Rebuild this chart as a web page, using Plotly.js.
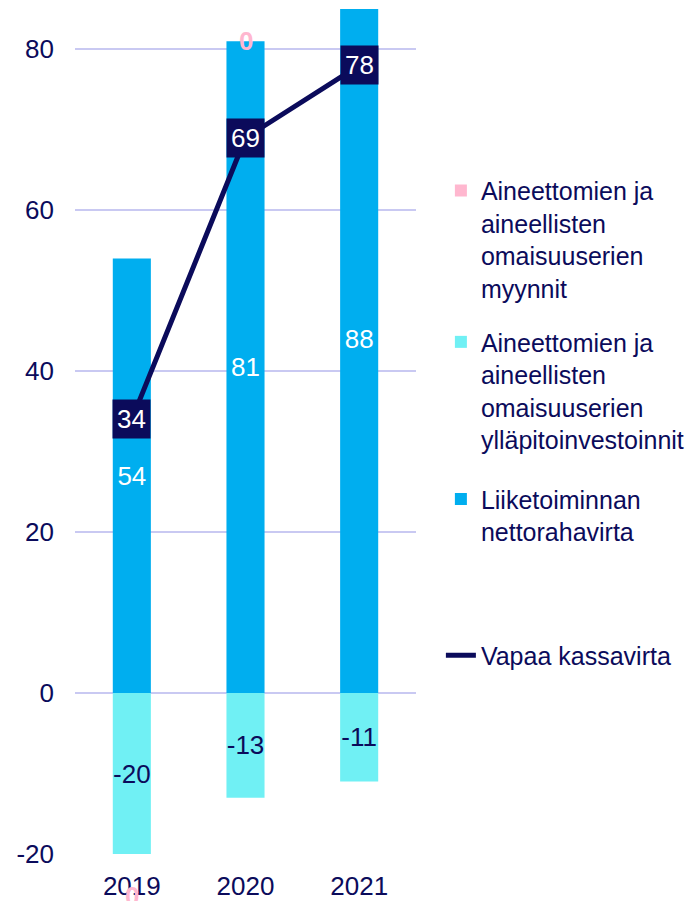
<!DOCTYPE html>
<html><head><meta charset="utf-8">
<script src="https://cdn.plot.ly/plotly-3.0.1.min.js"></script>
<style>html,body{margin:0;padding:0;background:#fff}#chart{width:700px;height:901px}</style>
</head><body><div id="chart"></div>
<script>
const years = ['2019', '2020', '2021'];
const sales = [0, 0, 0];                 // Aineettomien ja aineellisten omaisuuserien myynnit
const salesLabelY = [-20, 81, 88];        // where the "0" labels sit in the picture
const capex = [-20, -13, -11];            // ylläpitoinvestoinnit
const operating = [54, 81, 88];           // Liiketoiminnan nettorahavirta
const fcf = [34, 69, 78];                 // Vapaa kassavirta
const yTickVals = [-20, 0, 20, 40, 60, 80];
const yTickText = ['-20', '0', '20', '40', '60', '80'];

const navy = '#0b0b5b';
const blue = '#00aeef';
const cyan = '#70f0f4';
const pink = '#ffb7cf';
const grid = '#c9c9f2';
const font = 'Liberation Sans, Arial, sans-serif';

const traces = [
  {type:'bar', x:years, y:sales, name:'Aineettomien ja<br>aineellisten<br>omaisuuserien<br>myynnit',
   marker:{color:pink}, textposition:'none', legend:'legend', hoverinfo:'skip'},
  {type:'bar', x:years, y:capex, name:'Aineettomien ja<br>aineellisten<br>omaisuuserien<br>ylläpitoinvestoinnit',
   marker:{color:cyan}, text:capex.map(String), textposition:'inside', insidetextanchor:'middle',
   textangle:0, constraintext:'none', textfont:{color:navy, size:26, family:font}, legend:'legend2'},
  {type:'bar', x:years, y:operating, name:'Liiketoiminnan<br>nettorahavirta',
   marker:{color:blue}, text:operating.map(String), textposition:'inside', insidetextanchor:'middle',
   textangle:0, constraintext:'none', textfont:{color:'#ffffff', size:26, family:font}, legend:'legend3'},
  {type:'scatter', mode:'lines', x:years, y:fcf, name:'Vapaa kassavirta',
   line:{color:navy, width:5}, legend:'legend4'}
];

const annotations = [];
years.forEach((yr, i) => {
  annotations.push({x:i, y:fcf[i], xref:'x', yref:'y', text:String(fcf[i]), showarrow:false,
    bgcolor:navy, borderpad:4, font:{color:'#ffffff', size:26, family:font}});
});
years.forEach((yr, i) => {
  annotations.push({x:i, y:salesLabelY[i], xref:'x', yref:'y', text:'<b>' + String(sales[i]) + '</b>', showarrow:false,
    yshift: i === 0 ? -42 : 0, font:{color:pink, size:26, family:font}});
});

const legendBase = {x:1.073, xanchor:'left', yanchor:'top', bgcolor:'rgba(0,0,0,0)', borderwidth:0,
  font:{size:25, color:navy, family:font}, valign:'top', itemwidth:30, itemclick:false};

const layout = {
  width:700, height:901,
  margin:{l:75, r:284, t:9, b:47},
  paper_bgcolor:'#ffffff', plot_bgcolor:'#ffffff',
  barmode:'relative', bargap:0.665,
  font:{family:font, color:navy, size:26},
  showlegend:true,
  xaxis:{type:'category', categoryorder:'array', categoryarray:years, range:[-0.5, 2.5],
    showgrid:false, zeroline:false, showline:false,
    ticks:'', ticklabelstandoff:14, tickfont:{size:26, color:navy}},
  xaxis2:{overlaying:'x', anchor:'free', position:20/105, range:[-0.5, 2.5],
    tickvals:[-0.5, 0.5, 1.5, 2.5], ticks:'outside', ticklen:8, tickwidth:2, tickcolor:grid,
    showline:true, linecolor:grid, linewidth:2, showticklabels:false, showgrid:false,
    zeroline:false, layer:'below traces'},
  yaxis:{range:[-20, 85], tickvals:yTickVals, ticktext:yTickText, showgrid:true, gridcolor:grid,
    gridwidth:2, zeroline:false, showline:false, ticks:'', ticklabelstandoff:20,
    tickfont:{size:26, color:navy}},
  legend: Object.assign({}, legendBase, {y:0.812}),
  legend2: Object.assign({}, legendBase, {y:0.633}),
  legend3: Object.assign({}, legendBase, {y:0.447}),
  legend4: Object.assign({}, legendBase, {y:0.262}),
  annotations: annotations
};

Plotly.newPlot('chart', traces, layout, {displayModeBar:false, staticPlot:true});
</script></body></html>
